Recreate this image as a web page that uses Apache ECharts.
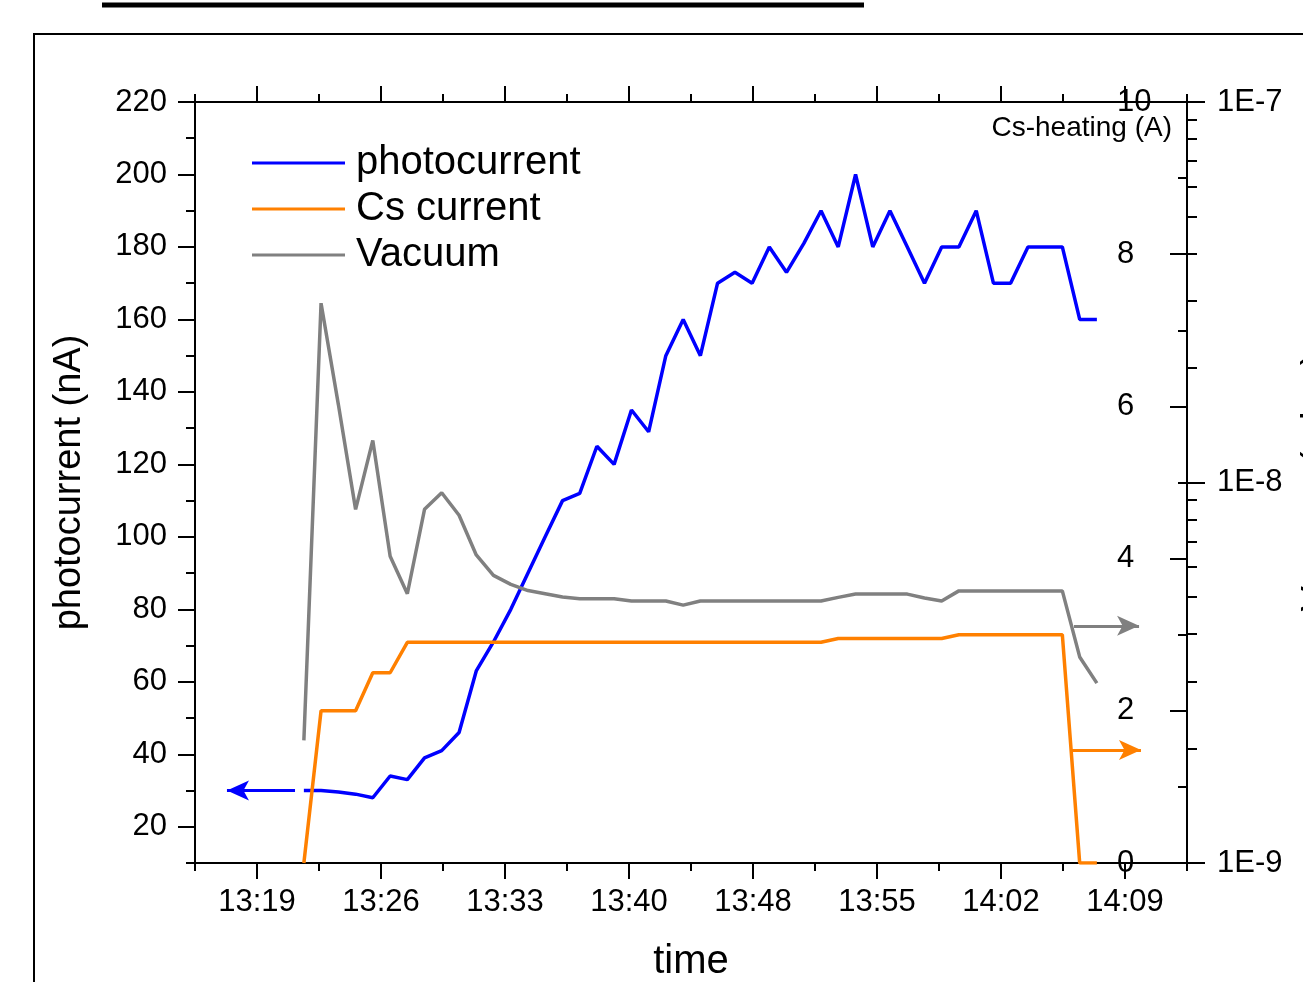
<!DOCTYPE html>
<html>
<head>
<meta charset="utf-8">
<title>photocurrent vs time</title>
<script src="https://cdn.jsdelivr.net/npm/echarts@6/dist/echarts.min.js"></script>
<style>
  html, body { margin: 0; padding: 0; background: #fff; }
  #chart { width: 1303px; height: 982px; }
</style>
</head>
<body>
<div id="chart"></div>
<script>
// reading times, minutes after 13:00
const times = [21.7, 22.69, 23.69, 24.68, 25.67, 26.67, 27.66, 28.65, 29.64, 30.64,
  31.63, 32.62, 33.62, 34.61, 35.6, 36.6, 37.59, 38.58, 39.57, 40.57,
  41.56, 42.55, 43.55, 44.54, 45.53, 46.53, 47.52, 48.51, 49.5, 50.5,
  51.49, 52.48, 53.48, 54.47, 55.46, 56.46, 57.45, 58.44, 59.43, 60.43,
  61.42, 62.41, 63.41, 64.4, 65.39, 66.39, 67.38];
// nA
const photocurrent = [30, 30, 29.6, 29, 28, 34, 33, 39, 41, 46,
  63, 71, 80, 90, 100, 110, 112, 125, 120, 135,
  129, 150, 160, 150, 170, 173, 170, 180, 173, 181,
  190, 180, 200, 180, 190, 180, 170, 180, 180, 190,
  170, 170, 180, 180, 180, 160, 160];
// Cs heating current, A
const csCurrent = [0, 2, 2, 2, 2.5, 2.5, 2.9, 2.9, 2.9, 2.9,
  2.9, 2.9, 2.9, 2.9, 2.9, 2.9, 2.9, 2.9, 2.9, 2.9,
  2.9, 2.9, 2.9, 2.9, 2.9, 2.9, 2.9, 2.9, 2.9, 2.9,
  2.9, 2.95, 2.95, 2.95, 2.95, 2.95, 2.95, 2.95, 3, 3,
  3, 3, 3, 3, 3, 0, 0];
// vacuum, mbar
const vacuum = [2.1e-9, 2.96e-8, 1.6e-8, 8.5e-9, 1.29e-8, 6.4e-9, 5.1e-9, 8.5e-9, 9.4e-9, 8.2e-9,
  6.45e-9, 5.7e-9, 5.4e-9, 5.2e-9, 5.1e-9, 5.0e-9, 4.95e-9, 4.95e-9, 4.95e-9, 4.88e-9,
  4.88e-9, 4.88e-9, 4.76e-9, 4.88e-9, 4.88e-9, 4.88e-9, 4.88e-9, 4.88e-9, 4.88e-9, 4.88e-9,
  4.88e-9, 4.99e-9, 5.09e-9, 5.09e-9, 5.09e-9, 5.09e-9, 4.97e-9, 4.88e-9, 5.19e-9, 5.19e-9,
  5.19e-9, 5.19e-9, 5.19e-9, 5.19e-9, 5.19e-9, 3.48e-9, 2.97e-9];

const timeLabels = ['13:19', '13:26', '13:33', '13:40', '13:48', '13:55', '14:02', '14:09'];
const photoTicks = [20, 40, 60, 80, 100, 120, 140, 160, 180, 200, 220];
const csTicks = [0, 2, 4, 6, 8, 10];

const FONT = 'Liberation Sans, Arial, sans-serif';
const BLUE = '#0000FF', ORANGE = '#FF8000', GRAY = '#808080';
const LW = 3.5;

function toMin(s) {
  const p = s.split(':');
  return (+p[0] - 13) * 60 + (+p[1]);
}
const first = toMin(timeLabels[0]);
const last = toMin(timeLabels[timeLabels.length - 1]);
const step = (last - first) / (timeLabels.length - 1);
const majorX = timeLabels.map((l, i) => first + i * step);
const xMin = first - step / 2;
const minorX = [];
for (let k = 0; k <= timeLabels.length; k++) minorX.push(xMin + k * step);
const xMax = minorX[minorX.length - 1];

const photoMinor = photoTicks.map(v => v - 10);
const csMinor = csTicks.slice(1).map(v => v - 1);
const vacMinor = [];
[1e-9, 1e-8].forEach(d => { for (let m = 2; m <= 9; m++) vacMinor.push(m * d); });

const chart = echarts.init(document.getElementById('chart'));

const blackLine = { show: true, lineStyle: { color: '#000', width: 2 } };
function xAx(pos, vals, len, opts) {
  return Object.assign({
    type: 'value', position: pos, min: xMin, max: xMax,
    axisLine: blackLine, splitLine: { show: false },
    axisTick: { show: true, customValues: vals, length: len, lineStyle: { color: '#000', width: 2 } },
    axisLabel: { show: false, customValues: vals }
  }, opts || {});
}

function arrow(color, from, to) {
  return {
    silent: true, symbol: ['none', 'arrow'], symbolSize: [15, 22], label: { show: false },
    lineStyle: { color: color, width: 3, type: 'solid' },
    data: [[{ coord: from }, { coord: to }]]
  };
}

const option = {
  animation: false,
  backgroundColor: '#fff',
  textStyle: { fontFamily: FONT },
  grid: { left: 195, top: 102, width: 992, height: 761, containLabel: false, outerBoundsMode: 'none' },
  legend: {
    left: 247, top: 138, orient: 'vertical', icon: 'rect', itemWidth: 93, itemHeight: 3, itemGap: 6,
    textStyle: { fontSize: 40, color: '#000', fontFamily: FONT, padding: [0, 0, 0, 6] },
    data: ['photocurrent', 'Cs current', 'Vacuum']
  },
  xAxis: [
    xAx('bottom', majorX, 16, {
      name: 'time', nameLocation: 'middle', nameGap: 79,
      nameTextStyle: { fontSize: 40, color: '#000', fontFamily: FONT },
      axisLabel: {
        show: true, customValues: majorX, fontSize: 31, color: '#000', margin: 24, fontFamily: FONT,
        formatter: v => timeLabels[Math.round((v - first) / step)] || ''
      }
    }),
    xAx('bottom', minorX, 8, { axisLine: { show: false } }),
    xAx('top', majorX, 16),
    xAx('top', minorX, 8, { axisLine: { show: false } })
  ],
  yAxis: [
    {
      type: 'value', position: 'left', min: 10, max: 220,
      axisLine: blackLine, splitLine: { show: false },
      axisTick: { show: true, customValues: photoTicks, length: 17, lineStyle: { color: '#000', width: 2 } },
      axisLabel: { customValues: photoTicks, fontSize: 31, color: '#000', margin: 28, fontFamily: FONT },
      name: 'photocurrent (nA)', nameLocation: 'middle', nameGap: 106, nameRotate: 90,
      nameTextStyle: { fontSize: 38, color: '#000', fontFamily: FONT }
    },
    {
      type: 'value', position: 'left', min: 10, max: 220,
      axisLine: { show: false }, splitLine: { show: false },
      axisTick: { show: true, customValues: photoMinor, length: 9, lineStyle: { color: '#000', width: 2 } },
      axisLabel: { show: false, customValues: photoMinor }
    },
    {
      type: 'value', position: 'right', min: 0, max: 10,
      axisLine: blackLine, splitLine: { show: false },
      axisTick: { show: true, inside: true, customValues: csTicks, length: 17, lineStyle: { color: '#000', width: 2 } },
      axisLabel: { inside: true, customValues: csTicks, fontSize: 31, color: '#000', margin: 70, align: 'left', fontFamily: FONT }
    },
    {
      type: 'value', position: 'right', min: 0, max: 10,
      axisLine: { show: false }, splitLine: { show: false },
      axisTick: { show: true, inside: true, customValues: csMinor, length: 9, lineStyle: { color: '#000', width: 2 } },
      axisLabel: { show: false, customValues: csMinor }
    },
    {
      type: 'log', logBase: 10, position: 'right', min: 1e-9, max: 1e-7,
      axisLine: blackLine, splitLine: { show: false },
      axisTick: { show: true, length: 18, lineStyle: { color: '#000', width: 2 } },
      axisLabel: { fontSize: 31, color: '#000', margin: 30, fontFamily: FONT,
        formatter: v => '1E' + Math.round(Math.log10(v)) }
    },
    {
      type: 'log', logBase: 10, position: 'right', min: 1e-9, max: 1e-7,
      axisLine: { show: false }, splitLine: { show: false },
      axisTick: { show: true, customValues: vacMinor, length: 10, lineStyle: { color: '#000', width: 2 } },
      axisLabel: { show: false, customValues: vacMinor }
    }
  ],
  series: [
    {
      name: 'photocurrent', type: 'line', xAxisIndex: 0, yAxisIndex: 0,
      symbol: 'none', color: BLUE, lineStyle: { width: LW, color: BLUE },
      data: times.map((t, i) => [t, photocurrent[i]]),
      markLine: arrow(BLUE, [21.19, 30], [17.27, 30])
    },
    {
      name: 'Cs current', type: 'line', xAxisIndex: 0, yAxisIndex: 2,
      symbol: 'none', color: ORANGE, lineStyle: { width: LW, color: ORANGE },
      data: times.map((t, i) => [t, csCurrent[i]]),
      markLine: arrow(ORANGE, [65.89, 1.485], [69.92, 1.485])
    },
    {
      name: 'Vacuum', type: 'line', xAxisIndex: 0, yAxisIndex: 4,
      symbol: 'none', color: GRAY, lineStyle: { width: LW, color: GRAY },
      data: times.map((t, i) => [t, vacuum[i]]),
      markLine: arrow(GRAY, [66.06, 4.2e-9], [69.81, 4.2e-9])
    }
  ],
  graphic: [
    { type: 'line', shape: { x1: 102, y1: 5, x2: 864, y2: 5 }, style: { stroke: '#000', lineWidth: 5 } },
    { type: 'line', shape: { x1: 33, y1: 34, x2: 1303, y2: 34 }, style: { stroke: '#000', lineWidth: 2 } },
    { type: 'line', shape: { x1: 34, y1: 33, x2: 34, y2: 982 }, style: { stroke: '#000', lineWidth: 2 } },
    { type: 'text', x: 1172, y: 128, style: { text: 'Cs-heating (A)', fontSize: 28, fontFamily: FONT, fill: '#000', textAlign: 'right', textVerticalAlign: 'middle' } },
    { type: 'text', x: 1318, y: 482, rotation: Math.PI / 2, style: { text: 'Vacuum (mbar)', fontSize: 38, fontFamily: FONT, fill: '#000', textAlign: 'center', textVerticalAlign: 'middle' } }
  ]
};

chart.setOption(option);
</script>
</body>
</html>
